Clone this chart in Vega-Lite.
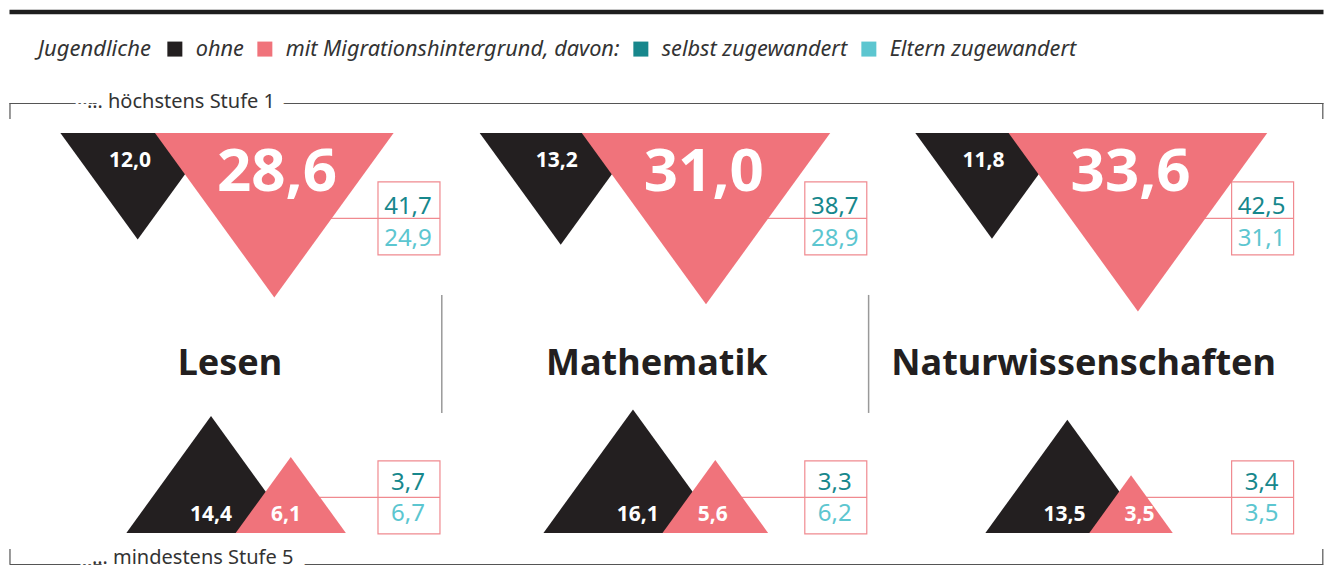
{
  "$schema": "https://vega.github.io/schema/vega-lite/v6.json",
  "width": 1327,
  "height": 570,
  "autosize": {"type": "none"},
  "padding": 0,
  "background": "white",
  "config": {
    "view": {"stroke": null},
    "font": "Noto Sans",
    "locale": {"number": {"decimal": ",", "thousands": ".", "grouping": [3], "currency": ["", " €"]}}
  },
  "data": {
    "values": [
      {"fach": "Lesen", "stufe": "… höchstens Stufe 1", "gruppe": "ohne", "wert": 12.0},
      {"fach": "Lesen", "stufe": "… höchstens Stufe 1", "gruppe": "mit Migrationshintergrund, davon:", "wert": 28.6},
      {"fach": "Lesen", "stufe": "… höchstens Stufe 1", "gruppe": "selbst zugewandert", "wert": 41.7},
      {"fach": "Lesen", "stufe": "… höchstens Stufe 1", "gruppe": "Eltern zugewandert", "wert": 24.9},
      {"fach": "Lesen", "stufe": "… mindestens Stufe 5", "gruppe": "ohne", "wert": 14.4},
      {"fach": "Lesen", "stufe": "… mindestens Stufe 5", "gruppe": "mit Migrationshintergrund, davon:", "wert": 6.1},
      {"fach": "Lesen", "stufe": "… mindestens Stufe 5", "gruppe": "selbst zugewandert", "wert": 3.7},
      {"fach": "Lesen", "stufe": "… mindestens Stufe 5", "gruppe": "Eltern zugewandert", "wert": 6.7},
      {"fach": "Mathematik", "stufe": "… höchstens Stufe 1", "gruppe": "ohne", "wert": 13.2},
      {"fach": "Mathematik", "stufe": "… höchstens Stufe 1", "gruppe": "mit Migrationshintergrund, davon:", "wert": 31.0},
      {"fach": "Mathematik", "stufe": "… höchstens Stufe 1", "gruppe": "selbst zugewandert", "wert": 38.7},
      {"fach": "Mathematik", "stufe": "… höchstens Stufe 1", "gruppe": "Eltern zugewandert", "wert": 28.9},
      {"fach": "Mathematik", "stufe": "… mindestens Stufe 5", "gruppe": "ohne", "wert": 16.1},
      {"fach": "Mathematik", "stufe": "… mindestens Stufe 5", "gruppe": "mit Migrationshintergrund, davon:", "wert": 5.6},
      {"fach": "Mathematik", "stufe": "… mindestens Stufe 5", "gruppe": "selbst zugewandert", "wert": 3.3},
      {"fach": "Mathematik", "stufe": "… mindestens Stufe 5", "gruppe": "Eltern zugewandert", "wert": 6.2},
      {"fach": "Naturwissenschaften", "stufe": "… höchstens Stufe 1", "gruppe": "ohne", "wert": 11.8},
      {"fach": "Naturwissenschaften", "stufe": "… höchstens Stufe 1", "gruppe": "mit Migrationshintergrund, davon:", "wert": 33.6},
      {"fach": "Naturwissenschaften", "stufe": "… höchstens Stufe 1", "gruppe": "selbst zugewandert", "wert": 42.5},
      {"fach": "Naturwissenschaften", "stufe": "… höchstens Stufe 1", "gruppe": "Eltern zugewandert", "wert": 31.1},
      {"fach": "Naturwissenschaften", "stufe": "… mindestens Stufe 5", "gruppe": "ohne", "wert": 13.5},
      {"fach": "Naturwissenschaften", "stufe": "… mindestens Stufe 5", "gruppe": "mit Migrationshintergrund, davon:", "wert": 3.5},
      {"fach": "Naturwissenschaften", "stufe": "… mindestens Stufe 5", "gruppe": "selbst zugewandert", "wert": 3.4},
      {"fach": "Naturwissenschaften", "stufe": "… mindestens Stufe 5", "gruppe": "Eltern zugewandert", "wert": 3.5}
    ]
  },
  "encoding": {
    "x": {"field": "fach", "type": "nominal", "axis": null,
          "scale": {"type": "point", "domain": ["Lesen", "Mathematik", "Naturwissenschaften"], "range": [9, 1323], "padding": 0.5393, "align": 0.48, "round": false}},
    "y": {"field": "stufe", "type": "nominal", "axis": null,
          "scale": {"type": "point", "domain": ["… höchstens Stufe 1", "… mindestens Stufe 5"], "range": [0, 570], "padding": 0.2125, "align": 0.782, "round": false}}
  },
  "layer": [
    {
      "transform": [{"filter": "datum.gruppe === 'ohne' && datum.fach === 'Lesen' && datum.stufe === '… höchstens Stufe 1'"}],
      "mark": {"type": "point", "shape": "M0,0L0,1", "size": 1024, "filled": false, "stroke": "#555555", "strokeWidth": 1.2, "opacity": 1, "xOffset": -220, "yOffset": -30}
    },
    {
      "transform": [{"filter": "datum.gruppe === 'ohne' && datum.fach === 'Naturwissenschaften' && datum.stufe === '… höchstens Stufe 1'"}],
      "mark": {"type": "point", "shape": "M0,0L0,1", "size": 1024, "filled": false, "stroke": "#555555", "strokeWidth": 1.2, "opacity": 1, "xOffset": 239.2, "yOffset": -30}
    },
    {
      "transform": [{"filter": "datum.gruppe === 'ohne' && datum.fach === 'Lesen' && datum.stufe === '… mindestens Stufe 5'"}],
      "mark": {"type": "point", "shape": "M0,0L0,-1", "size": 900, "filled": false, "stroke": "#555555", "strokeWidth": 1.2, "opacity": 1, "xOffset": -220, "yOffset": 31}
    },
    {
      "transform": [{"filter": "datum.gruppe === 'ohne' && datum.fach === 'Naturwissenschaften' && datum.stufe === '… mindestens Stufe 5'"}],
      "mark": {"type": "point", "shape": "M0,0L0,-1", "size": 900, "filled": false, "stroke": "#555555", "strokeWidth": 1.2, "opacity": 1, "xOffset": 239.2, "yOffset": 31}
    },
    {
      "transform": [{"filter": "datum.gruppe === 'ohne' && datum.fach === 'Lesen' && datum.stufe === '… höchstens Stufe 1'"}],
      "mark": {"type": "text", "align": "left", "baseline": "alphabetic", "fontSize": 20, "fill": "white", "stroke": "white", "strokeWidth": 26, "strokeJoin": "round", "xOffset": -143, "yOffset": -25},
      "encoding": {"text": {"field": "stufe"}}
    },
    {
      "transform": [{"filter": "datum.gruppe === 'ohne' && datum.fach === 'Lesen' && datum.stufe === '… höchstens Stufe 1'"}],
      "mark": {"type": "text", "align": "left", "baseline": "alphabetic", "fontSize": 20, "fill": "#333333", "xOffset": -143, "yOffset": -25},
      "encoding": {"text": {"field": "stufe"}}
    },
    {
      "transform": [{"filter": "datum.gruppe === 'ohne' && datum.fach === 'Lesen' && datum.stufe === '… mindestens Stufe 5'"}],
      "mark": {"type": "text", "align": "left", "baseline": "alphabetic", "fontSize": 20, "fill": "white", "stroke": "white", "strokeWidth": 26, "strokeJoin": "round", "xOffset": -138, "yOffset": 31},
      "encoding": {"text": {"field": "stufe"}}
    },
    {
      "transform": [{"filter": "datum.gruppe === 'ohne' && datum.fach === 'Lesen' && datum.stufe === '… mindestens Stufe 5'"}],
      "mark": {"type": "text", "align": "left", "baseline": "alphabetic", "fontSize": 20, "fill": "#333333", "xOffset": -138, "yOffset": 31},
      "encoding": {"text": {"field": "stufe"}}
    },
    {
      "transform": [{"filter": "datum.gruppe === 'ohne' && datum.fach !== 'Lesen' && datum.stufe === '… mindestens Stufe 5'"}],
      "mark": {"type": "point", "shape": "M0,-1L0,1", "size": 13924, "filled": false, "stroke": "#999999", "strokeWidth": 1.5, "opacity": 1, "xOffset": -215, "yOffset": -179},
      "encoding": {
        "x": {"field": "fach", "type": "nominal",
              "axis": {"orient": "top", "offset": -11.5, "domain": true, "domainColor": "#1e1e1e", "domainWidth": 4.5, "domainCap": "butt", "ticks": false, "labels": false, "title": null, "grid": false}}
      }
    },
    {
      "transform": [{"filter": "datum.gruppe === 'ohne' && datum.stufe === '… mindestens Stufe 5'"}],
      "mark": {"type": "text", "align": "center", "baseline": "alphabetic", "fontSize": 36, "fontWeight": "bold", "fill": "#231f20", "yOffset": -158},
      "encoding": {"text": {"field": "fach"}}
    },
    {
      "transform": [{"filter": "datum.gruppe === 'selbst zugewandert' && datum.stufe === '… höchstens Stufe 1'"}],
      "mark": {"type": "point", "shape": "M-0.849,-1L0.849,-1L0.849,1L-0.849,1ZM-3.535,0L0.849,0", "size": 5329, "filled": false, "stroke": "#f08a90", "strokeWidth": 1.2, "opacity": 1, "xOffset": 179, "yOffset": 85.5},
      "encoding": {
        "x": {"field": "fach", "type": "nominal",
              "axis": {"orient": "top", "offset": -103, "domain": true, "domainColor": "#555555", "domainWidth": 1.2, "ticks": false, "labels": false, "title": null, "grid": false}}
      }
    },
    {
      "transform": [{"filter": "datum.gruppe === 'selbst zugewandert' && datum.stufe === '… mindestens Stufe 5'"}],
      "mark": {"type": "point", "shape": "M-0.849,-1L0.849,-1L0.849,1L-0.849,1ZM-4.63,0L0.849,0", "size": 5329, "filled": false, "stroke": "#f08a90", "strokeWidth": 1.2, "opacity": 1, "xOffset": 179, "yOffset": -35.5},
      "encoding": {
        "x": {"field": "fach", "type": "nominal",
              "axis": {"orient": "bottom", "offset": -6, "domain": true, "domainColor": "#555555", "domainWidth": 1.2, "ticks": false, "labels": false, "title": null, "grid": false}}
      }
    },
    {
      "transform": [{"filter": "datum.gruppe === 'selbst zugewandert' && datum.stufe === '… höchstens Stufe 1'"}],
      "mark": {"type": "text", "align": "center", "baseline": "alphabetic", "fontSize": 24, "xOffset": 178, "yOffset": 81},
      "encoding": {"text": {"field": "wert", "type": "quantitative", "format": ".1f"}, "color": {"field": "gruppe", "type": "nominal"}}
    },
    {
      "transform": [{"filter": "datum.gruppe === 'Eltern zugewandert' && datum.stufe === '… höchstens Stufe 1'"}],
      "mark": {"type": "text", "align": "center", "baseline": "alphabetic", "fontSize": 24, "xOffset": 178, "yOffset": 113},
      "encoding": {"text": {"field": "wert", "type": "quantitative", "format": ".1f"}, "color": {"field": "gruppe", "type": "nominal"}}
    },
    {
      "transform": [{"filter": "datum.gruppe === 'selbst zugewandert' && datum.stufe === '… mindestens Stufe 5'"}],
      "mark": {"type": "text", "align": "center", "baseline": "alphabetic", "fontSize": 24, "xOffset": 178, "yOffset": -43},
      "encoding": {"text": {"field": "wert", "type": "quantitative", "format": ".1f"}, "color": {"field": "gruppe", "type": "nominal"}}
    },
    {
      "transform": [{"filter": "datum.gruppe === 'Eltern zugewandert' && datum.stufe === '… mindestens Stufe 5'"}],
      "mark": {"type": "text", "align": "center", "baseline": "alphabetic", "fontSize": 24, "xOffset": 178, "yOffset": -12},
      "encoding": {"text": {"field": "wert", "type": "quantitative", "format": ".1f"}, "color": {"field": "gruppe", "type": "nominal"}}
    },
    {
      "transform": [{"filter": "datum.gruppe === 'ohne' && datum.stufe === '… höchstens Stufe 1'"}],
      "mark": {"type": "point", "shape": "M0,0L-2,0L-1,1.38Z", "filled": true, "opacity": 1, "strokeWidth": 0, "xOffset": -15},
      "encoding": {
        "size": {"field": "wert", "type": "quantitative", "legend": null, "scale": {"type": "linear", "domain": [0, 40], "range": [0, 79640]}},
        "color": {"field": "gruppe", "type": "nominal",
                  "scale": {"domain": ["ohne", "mit Migrationshintergrund, davon:", "selbst zugewandert", "Eltern zugewandert"], "range": ["#231f20", "#f0737b", "#17878c", "#5cc6d0"]},
                  "legend": {"orient": "none", "legendX": 38, "legendY": 38, "direction": "horizontal", "title": "Jugendliche", "titleOrient": "left",
                             "titleFontStyle": "italic", "titleFontWeight": "normal", "titleFontSize": 22, "titleColor": "#333333", "titlePadding": 13,
                             "labelFontStyle": "italic", "labelFontSize": 21.7, "labelColor": "#333333", "labelLimit": 500, "labelOffset": 10,
                             "labelExpr": "datum.label === 'ohne' ? datum.label + '\u00a0\u00a0\u00a0' : (datum.label === 'selbst zugewandert' ? datum.label + '\u00a0\u00a0' : datum.label)",
                             "symbolType": "square", "symbolSize": 225, "symbolStrokeWidth": 0, "symbolOpacity": 1, "columnPadding": 10}}
      }
    },
    {
      "transform": [{"filter": "datum.gruppe === 'ohne' && datum.stufe === '… mindestens Stufe 5'"}],
      "mark": {"type": "point", "shape": "M0,0L-2,0L-1,-1.38Z", "filled": true, "opacity": 1, "strokeWidth": 0, "xOffset": 65.7},
      "encoding": {
        "size": {"field": "wert", "type": "quantitative", "legend": null},
        "color": {"field": "gruppe", "type": "nominal"}
      }
    },
    {
      "transform": [{"filter": "datum.gruppe === 'mit Migrationshintergrund, davon:' && datum.stufe === '… höchstens Stufe 1'"}],
      "mark": {"type": "point", "shape": "M0,0L2,0L1,1.38Z", "filled": true, "opacity": 1, "strokeWidth": 0, "xOffset": -75},
      "encoding": {
        "size": {"field": "wert", "type": "quantitative", "legend": null},
        "color": {"field": "gruppe", "type": "nominal"}
      }
    },
    {
      "transform": [{"filter": "datum.gruppe === 'mit Migrationshintergrund, davon:' && datum.stufe === '… mindestens Stufe 5'"}],
      "mark": {"type": "point", "shape": "M0,0L2,0L1,-1.38Z", "filled": true, "opacity": 1, "strokeWidth": 0, "xOffset": 5.7},
      "encoding": {
        "size": {"field": "wert", "type": "quantitative", "legend": null},
        "color": {"field": "gruppe", "type": "nominal"}
      }
    },
    {
      "transform": [{"filter": "datum.gruppe === 'ohne' && datum.stufe === '… höchstens Stufe 1'"}],
      "mark": {"type": "text", "align": "right", "baseline": "alphabetic", "fontSize": 21, "fontWeight": "bold", "fill": "white", "xOffset": -79, "yOffset": 34},
      "encoding": {"text": {"field": "wert", "type": "quantitative", "format": ".1f"}}
    },
    {
      "transform": [{"filter": "datum.gruppe === 'mit Migrationshintergrund, davon:' && datum.stufe === '… höchstens Stufe 1'"}],
      "mark": {"type": "text", "align": "left", "baseline": "alphabetic", "fontSize": 60, "fontWeight": "bold", "fill": "white", "xOffset": -13, "yOffset": 58},
      "encoding": {"text": {"field": "wert", "type": "quantitative", "format": ".1f"}}
    },
    {
      "transform": [{"filter": "datum.gruppe === 'ohne' && datum.stufe === '… mindestens Stufe 5'"}],
      "mark": {"type": "text", "align": "right", "baseline": "alphabetic", "fontSize": 21, "fontWeight": "bold", "fill": "white", "xOffset": 2, "yOffset": -12},
      "encoding": {"text": {"field": "wert", "type": "quantitative", "format": ".1f"}}
    },
    {
      "transform": [{"filter": "datum.gruppe === 'mit Migrationshintergrund, davon:' && datum.stufe === '… mindestens Stufe 5'"}],
      "mark": {"type": "text", "align": "center", "baseline": "alphabetic", "fontSize": 21, "fontWeight": "bold", "fill": "white", "xOffset": 56, "yOffset": -12},
      "encoding": {"text": {"field": "wert", "type": "quantitative", "format": ".1f"}}
    }
  ],
  "resolve": {"axis": {"x": "independent"}}
}
